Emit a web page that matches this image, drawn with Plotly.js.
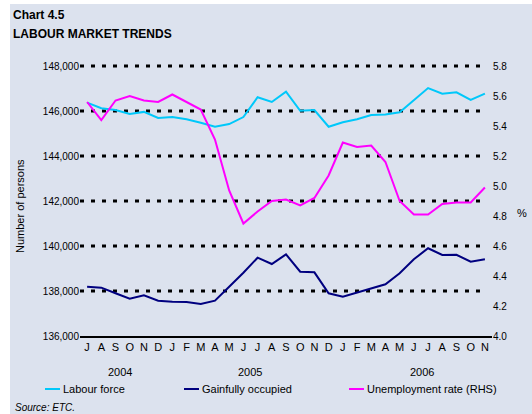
<!DOCTYPE html>
<html><head><meta charset="utf-8">
<script src="https://cdn.plot.ly/plotly-3.0.1.min.js"></script>
<style>html,body{margin:0;padding:0;background:#ffffff;}</style>
</head><body><div id="chart" style="width:532px;height:414px;"></div>
<script>
const monthLabels = ["J","A","S","O","N","D","J","F","M","A","M","J","J","A","S","O","N","D","J","F","M","A","M","J","J","A","S","O","N"];
const years = ["2004","2005","2006"];
const yearCenters = [2.3, 11.5, 23.6];
const leftTicks = [136000,138000,140000,142000,144000,146000,148000];
const rightTicks = [4.0,4.2,4.4,4.6,4.8,5.0,5.2,5.4,5.6,5.8];
const seriesNames = ["Labour force", "Gainfully occupied", "Unemployment rate (RHS)"];
const seriesColors = ["#00c8fa", "#00007f", "#ff00ff"];
const labourForce = [146370,146120,146040,145870,145960,145690,145730,145630,145480,145300,145420,145730,146610,146400,146860,146010,146040,145300,145500,145630,145820,145850,145940,146490,147020,146770,146830,146490,146770];
const gainfullyOccupied = [138190,138150,137900,137660,137810,137570,137520,137510,137420,137570,138190,138810,139480,139200,139630,138860,138830,137900,137750,137930,138120,138300,138790,139410,139900,139600,139610,139300,139410];
const unemploymentRate = [5.56,5.44,5.57,5.60,5.57,5.56,5.61,5.56,5.51,5.31,4.97,4.75,4.83,4.90,4.91,4.87,4.92,5.07,5.29,5.26,5.27,5.16,4.90,4.81,4.81,4.88,4.89,4.89,4.99];

const idx = monthLabels.map((_, i) => i);
const font = "Liberation Sans, Arial, sans-serif";
const panel = "#dce2ee";

const traces = [
  {x: idx, y: labourForce, name: seriesNames[0], type: "scatter", mode: "lines",
   line: {color: seriesColors[0], width: 2}},
  {x: idx, y: gainfullyOccupied, name: seriesNames[1], type: "scatter", mode: "lines",
   line: {color: seriesColors[1], width: 2}},
  {x: idx, y: unemploymentRate, name: seriesNames[2], type: "scatter", mode: "lines",
   yaxis: "y2", line: {color: seriesColors[2], width: 2}}
];

// plot area: x 80..492 (412 px), y 62..336 (274 px); 148,000 / 5.8 sit at y=66
const PW = 412, PH = 274, PL = 80, PB = 336;
const px = v => (v - PL) / PW;
const py = v => (PB - v) / PH;
const pad = 4 / 270; // fraction of the 136k-148k span added on top

const shapes = [{type: "rect", xref: "paper", yref: "paper", layer: "below",
  x0: px(10), x1: px(532), y0: py(414), y1: py(4), fillcolor: panel, line: {width: 0}}];

// dotted gridlines (decoration), ending short of the right edge like the reference
leftTicks.slice(1).forEach(v => shapes.push({type: "line", xref: "x", yref: "y", layer: "below",
  x0: -0.5, x1: 28, y0: v, y1: v, line: {color: "#000", width: 3, dash: "4px,7px"}}));

const annotations = years.map((y, i) => ({
  text: y, x: yearCenters[i], xref: "x", y: py(372), yref: "paper",
  showarrow: false, xanchor: "center", yanchor: "middle",
  font: {family: font, size: 11, color: "#000"}
}));
annotations.push({text: "<b>Chart 4.5</b>", x: px(11), xref: "paper", y: py(15), yref: "paper",
  showarrow: false, xanchor: "left", yanchor: "middle", font: {family: font, size: 12, color: "#000"}});
annotations.push({text: "<b>LABOUR MARKET TRENDS</b>", x: px(11), xref: "paper", y: py(34), yref: "paper",
  showarrow: false, xanchor: "left", yanchor: "middle", font: {family: font, size: 12, color: "#000"}});
annotations.push({text: "Number of persons", textangle: -90, x: px(20), xref: "paper",
  y: py(206), yref: "paper", showarrow: false, xanchor: "center", yanchor: "middle",
  font: {family: font, size: 11, color: "#000"}});
annotations.push({text: "%", x: px(522), xref: "paper", y: py(213), yref: "paper",
  showarrow: false, xanchor: "center", yanchor: "middle",
  font: {family: font, size: 11, color: "#000"}});
annotations.push({text: "<i>Source: ETC.</i>", x: px(13), xref: "paper", y: py(407), yref: "paper",
  showarrow: false, xanchor: "left", yanchor: "middle",
  font: {family: font, size: 10, color: "#000"}});

// manual legend
const legendText = [61, 200, 365];
seriesNames.forEach((n, i) => {
  annotations.push({text: n, x: px(legendText[i]), xref: "paper", y: py(389), yref: "paper",
    showarrow: false, xanchor: "left", yanchor: "middle",
    font: {family: font, size: 11, color: "#000"}});
  shapes.push({type: "line", xref: "paper", yref: "paper",
    x0: px(legendText[i] - 16), x1: px(legendText[i] - 1), y0: py(389), y1: py(389),
    line: {color: seriesColors[i], width: 2}});
});

const layout = {
  width: 532, height: 414,
  paper_bgcolor: "#ffffff", plot_bgcolor: "rgba(0,0,0,0)",
  margin: {l: 80, r: 40, t: 62, b: 78},
  font: {family: font, size: 11, color: "#000"},
  showlegend: false,
  xaxis: {range: [-0.5, 28.5], tickmode: "array", tickvals: idx, ticktext: monthLabels,
    showgrid: false, zeroline: false, showline: true, linecolor: "#000", linewidth: 2,
    ticks: "", tickfont: {size: 11}, automargin: false},
  yaxis: {range: [136000, 148000 + 12000 * pad], tickmode: "array", tickvals: leftTicks, tickformat: ",d",
    showgrid: false, zeroline: false, showline: false, ticks: "", tickfont: {size: 10}, automargin: false},
  yaxis2: {range: [4.0, 5.8 + 1.8 * pad], tickmode: "array", tickvals: rightTicks, tickformat: ".1f", overlaying: "y",
    side: "right", showgrid: false, zeroline: false, showline: false, ticks: "",
    tickfont: {size: 10}, automargin: false},
  annotations: annotations,
  shapes: shapes
};

Plotly.newPlot("chart", traces, layout, {displayModeBar: false, staticPlot: true});
</script></body></html>
